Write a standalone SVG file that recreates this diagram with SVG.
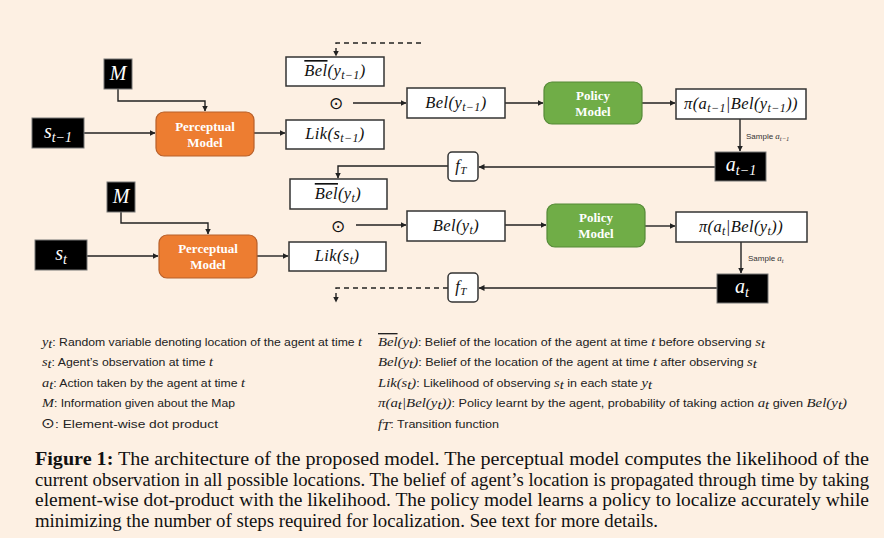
<svg xmlns="http://www.w3.org/2000/svg" width="884" height="538" viewBox="0 0 884 538">
<style>
.bg{fill:#fdf0e3}
.wb{fill:#fff;stroke:#333;stroke-width:1.5}
.bb{fill:#000;stroke:#777;stroke-width:1}
.pm{fill:#ed7d31;stroke:#b8602a;stroke-width:1.2}
.po{fill:#70ad47;stroke:#558a37;stroke-width:1.2}
.c{fill:none;stroke:#222;stroke-width:1.4}
.d{stroke-dasharray:5 4}
.m{font-family:"Liberation Serif",serif;font-style:italic;font-size:16.5px;fill:#111;letter-spacing:0.4px}
.mw{font-family:"Liberation Serif",serif;font-style:italic;font-size:20px;fill:#fff}
.bt{font-family:"Liberation Serif",serif;font-weight:bold;font-size:13px;fill:#fff}
.sm{font-family:"Liberation Sans",sans-serif;font-size:8px;fill:#333}
.leg{font-family:"Liberation Sans",sans-serif;font-size:11.5px;fill:#222}
.li{font-family:"Liberation Serif",serif;font-style:italic;font-size:13.5px}
.cap{font-family:"Liberation Serif",serif;font-size:19px;fill:#111}
.ov{text-decoration:overline}
</style>
<defs>
<marker id="ar" markerWidth="6" markerHeight="6" refX="5.5" refY="3" orient="auto" markerUnits="userSpaceOnUse">
<path d="M0,0 L6,3 L0,6 z" fill="#222"/>
</marker>
</defs>
<rect class="bg" x="0" y="0" width="884" height="538"/>

<g id="connectors">
<path class="c" d="M118,89 V101 H205 V111" marker-end="url(#ar)"/>
<path class="c" d="M84,133 H155" marker-end="url(#ar)"/>
<path class="c" d="M254,133 H285" marker-end="url(#ar)"/>
<path class="c d" d="M421,43 H336 V56" marker-end="url(#ar)"/>
<path class="c" d="M353,103 H406" marker-end="url(#ar)"/>
<path class="c" d="M505,103 H543" marker-end="url(#ar)"/>
<path class="c" d="M642,103 H675" marker-end="url(#ar)"/>
<path class="c" d="M740,119 V151" marker-end="url(#ar)"/>
<path class="c" d="M715,167 H479" marker-end="url(#ar)"/>
<path class="c" d="M448,166 H338 V178" marker-end="url(#ar)"/>
<path class="c" d="M121,212 V223 H208 V234" marker-end="url(#ar)"/>
<path class="c" d="M87,256 H158" marker-end="url(#ar)"/>
<path class="c" d="M257,256 H288" marker-end="url(#ar)"/>
<path class="c" d="M356,225 H406" marker-end="url(#ar)"/>
<path class="c" d="M505,225 H546" marker-end="url(#ar)"/>
<path class="c" d="M645,226 H675" marker-end="url(#ar)"/>
<path class="c" d="M741,242 V273" marker-end="url(#ar)"/>
<path class="c" d="M717,288 H479" marker-end="url(#ar)"/>
<path class="c d" d="M448,288 H336 V302" marker-end="url(#ar)"/>
</g>

<g id="M1"><rect class="bb" x="104" y="59" width="28" height="30"/><text class="mw" x="118" y="80" text-anchor="middle">M</text></g>
<g id="s1"><rect class="bb" x="32" y="118" width="52" height="30"/><text class="mw" x="58" y="138" text-anchor="middle">s<tspan font-size="14" dy="4">t−1</tspan></text></g>
<g id="PM1"><rect class="pm" x="156" y="112" width="98" height="44" rx="8"/><text class="bt" x="205" y="131" text-anchor="middle">Perceptual</text><text class="bt" x="205" y="147" text-anchor="middle">Model</text></g>
<g id="Belbar1"><rect class="wb" x="286" y="57" width="98" height="29"/><text class="m" x="335" y="76" text-anchor="middle"><tspan class="ov">Bel</tspan>(y<tspan font-size="12" dy="3">t−1</tspan><tspan dy="-3">)</tspan></text></g>
<g id="odot1"><text x="336" y="109" text-anchor="middle" font-family="DejaVu Sans,sans-serif" font-size="17" fill="#111">⊙</text></g>
<g id="Lik1"><rect class="wb" x="286" y="120" width="98" height="29"/><text class="m" x="335" y="139" text-anchor="middle">Lik(s<tspan font-size="12" dy="3">t−1</tspan><tspan dy="-3">)</tspan></text></g>
<g id="Bel1"><rect class="wb" x="407" y="88" width="98" height="30"/><text class="m" x="456" y="108" text-anchor="middle">Bel(y<tspan font-size="12" dy="3">t−1</tspan><tspan dy="-3">)</tspan></text></g>
<g id="Policy1"><rect class="po" x="544" y="82" width="98" height="42" rx="8"/><text class="bt" x="593" y="100" text-anchor="middle">Policy</text><text class="bt" x="593" y="116" text-anchor="middle">Model</text></g>
<g id="pi1"><rect class="wb" x="676" y="89" width="130" height="30"/><text class="m" x="741" y="109" text-anchor="middle" font-size="17">π(a<tspan font-size="12" dy="3">t−1</tspan><tspan dy="-3">|Bel(y</tspan><tspan font-size="12" dy="3">t−1</tspan><tspan dy="-3">))</tspan></text></g>
<g id="sample1"><text class="sm" x="746" y="139">Sample <tspan font-family="Liberation Serif,serif" font-style="italic" font-size="9">a</tspan><tspan font-family="Liberation Serif,serif" font-style="italic" font-size="6.5" dy="2">t−1</tspan></text></g>
<g id="a1"><rect class="bb" x="715" y="152" width="51" height="29"/><text class="mw" x="741" y="171" text-anchor="middle">a<tspan font-size="14" dy="4">t−1</tspan></text></g>
<g id="fT1"><rect class="wb" x="448" y="152" width="30" height="29" rx="4"/><text class="m" x="461" y="171" text-anchor="middle">f<tspan font-size="11" dy="3">T</tspan></text></g>

<g id="M2"><rect class="bb" x="107" y="182" width="28" height="30"/><text class="mw" x="121" y="203" text-anchor="middle">M</text></g>
<g id="s2"><rect class="bb" x="35" y="240" width="52" height="30"/><text class="mw" x="61" y="260" text-anchor="middle">s<tspan font-size="14" dy="4">t</tspan></text></g>
<g id="PM2"><rect class="pm" x="159" y="235" width="98" height="43" rx="8"/><text class="bt" x="208" y="253" text-anchor="middle">Perceptual</text><text class="bt" x="208" y="269" text-anchor="middle">Model</text></g>
<g id="Belbar2"><rect class="wb" x="290" y="179" width="97" height="30"/><text class="m" x="338" y="199" text-anchor="middle"><tspan class="ov">Bel</tspan>(y<tspan font-size="12" dy="3">t</tspan><tspan dy="-3">)</tspan></text></g>
<g id="odot2"><text x="338" y="232" text-anchor="middle" font-family="DejaVu Sans,sans-serif" font-size="17" fill="#111">⊙</text></g>
<g id="Lik2"><rect class="wb" x="289" y="242" width="97" height="29"/><text class="m" x="337" y="261" text-anchor="middle">Lik(s<tspan font-size="12" dy="3">t</tspan><tspan dy="-3">)</tspan></text></g>
<g id="Bel2"><rect class="wb" x="407" y="211" width="98" height="30"/><text class="m" x="456" y="231" text-anchor="middle">Bel(y<tspan font-size="12" dy="3">t</tspan><tspan dy="-3">)</tspan></text></g>
<g id="Policy2"><rect class="po" x="547" y="204" width="98" height="43" rx="8"/><text class="bt" x="596" y="222" text-anchor="middle">Policy</text><text class="bt" x="596" y="238" text-anchor="middle">Model</text></g>
<g id="pi2"><rect class="wb" x="676" y="212" width="131" height="30"/><text class="m" x="741" y="232" text-anchor="middle" font-size="17">π(a<tspan font-size="12" dy="3">t</tspan><tspan dy="-3">|Bel(y</tspan><tspan font-size="12" dy="3">t</tspan><tspan dy="-3">))</tspan></text></g>
<g id="sample2"><text class="sm" x="748" y="261">Sample <tspan font-family="Liberation Serif,serif" font-style="italic" font-size="9">a</tspan><tspan font-family="Liberation Serif,serif" font-style="italic" font-size="6.5" dy="2">t</tspan></text></g>
<g id="a2"><rect class="bb" x="717" y="274" width="51" height="29"/><text class="mw" x="742" y="293" text-anchor="middle">a<tspan font-size="14" dy="4">t</tspan></text></g>
<g id="fT2"><rect class="wb" x="448" y="273" width="30" height="29" rx="4"/><text class="m" x="461" y="292" text-anchor="middle">f<tspan font-size="11" dy="3">T</tspan></text></g>

<g id="legend">
<text class="leg" x="42" y="346" textLength="320" lengthAdjust="spacingAndGlyphs"><tspan class="li">y</tspan><tspan class="li" font-size="9.5" dy="2">t</tspan><tspan dy="-2">: Random variable denoting location of the agent at time </tspan><tspan class="li">t</tspan></text>
<text class="leg" x="42" y="366" textLength="171" lengthAdjust="spacingAndGlyphs"><tspan class="li">s</tspan><tspan class="li" font-size="9.5" dy="2">t</tspan><tspan dy="-2">: Agent’s observation at time </tspan><tspan class="li">t</tspan></text>
<text class="leg" x="42" y="387" textLength="203" lengthAdjust="spacingAndGlyphs"><tspan class="li">a</tspan><tspan class="li" font-size="9.5" dy="2">t</tspan><tspan dy="-2">: Action taken by the agent at time </tspan><tspan class="li">t</tspan></text>
<text class="leg" x="42" y="407" textLength="193" lengthAdjust="spacingAndGlyphs"><tspan class="li">M</tspan>: Information given about the Map</text>
<text class="leg" x="41" y="428" textLength="177" lengthAdjust="spacingAndGlyphs"><tspan font-family="DejaVu Sans,sans-serif" font-size="14">⊙</tspan>: Element-wise dot product</text>

<text class="leg" x="378" y="346" textLength="387" lengthAdjust="spacingAndGlyphs"><tspan class="li ov">Bel</tspan><tspan class="li">(y</tspan><tspan class="li" font-size="9.5" dy="2">t</tspan><tspan class="li" dy="-2">)</tspan>: Belief of the location of the agent at time <tspan class="li">t</tspan> before observing <tspan class="li">s</tspan><tspan class="li" font-size="9.5" dy="2">t</tspan></text>
<text class="leg" x="378" y="366" textLength="379" lengthAdjust="spacingAndGlyphs"><tspan class="li">Bel(y</tspan><tspan class="li" font-size="9.5" dy="2">t</tspan><tspan class="li" dy="-2">)</tspan>: Belief of the location of the agent at time <tspan class="li">t</tspan> after observing <tspan class="li">s</tspan><tspan class="li" font-size="9.5" dy="2">t</tspan></text>
<text class="leg" x="378" y="387" textLength="274" lengthAdjust="spacingAndGlyphs"><tspan class="li">Lik(s</tspan><tspan class="li" font-size="9.5" dy="2">t</tspan><tspan class="li" dy="-2">)</tspan>: Likelihood of observing <tspan class="li">s</tspan><tspan class="li" font-size="9.5" dy="2">t</tspan><tspan dy="-2"> in each state </tspan><tspan class="li">y</tspan><tspan class="li" font-size="9.5" dy="2">t</tspan></text>
<text class="leg" x="378" y="407" textLength="469" lengthAdjust="spacingAndGlyphs"><tspan class="li">π(a</tspan><tspan class="li" font-size="9.5" dy="2">t</tspan><tspan class="li" dy="-2">|Bel(y</tspan><tspan class="li" font-size="9.5" dy="2">t</tspan><tspan class="li" dy="-2">))</tspan>: Policy learnt by the agent, probability of taking action <tspan class="li">a</tspan><tspan class="li" font-size="9.5" dy="2">t</tspan><tspan dy="-2"> given </tspan><tspan class="li">Bel(y</tspan><tspan class="li" font-size="9.5" dy="2">t</tspan><tspan class="li" dy="-2">)</tspan></text>
<text class="leg" x="378" y="428" textLength="121" lengthAdjust="spacingAndGlyphs"><tspan class="li">f</tspan><tspan class="li" font-size="9.5" dy="2">T</tspan><tspan dy="-2">: Transition function</tspan></text>
</g>

<g id="caption">
<text class="cap" x="35" y="465" textLength="834" lengthAdjust="spacingAndGlyphs"><tspan font-weight="bold">Figure 1:</tspan> The architecture of the proposed model.  The perceptual model computes the likelihood of the</text>
<text class="cap" x="35" y="486" textLength="834" lengthAdjust="spacingAndGlyphs">current observation in all possible locations. The belief of agent’s location is propagated through time by taking</text>
<text class="cap" x="35" y="506" textLength="834" lengthAdjust="spacingAndGlyphs">element-wise dot-product with the likelihood. The policy model learns a policy to localize accurately while</text>
<text class="cap" x="35" y="527" textLength="623" lengthAdjust="spacingAndGlyphs">minimizing the number of steps required for localization. See text for more details.</text>
</g>
</svg>
